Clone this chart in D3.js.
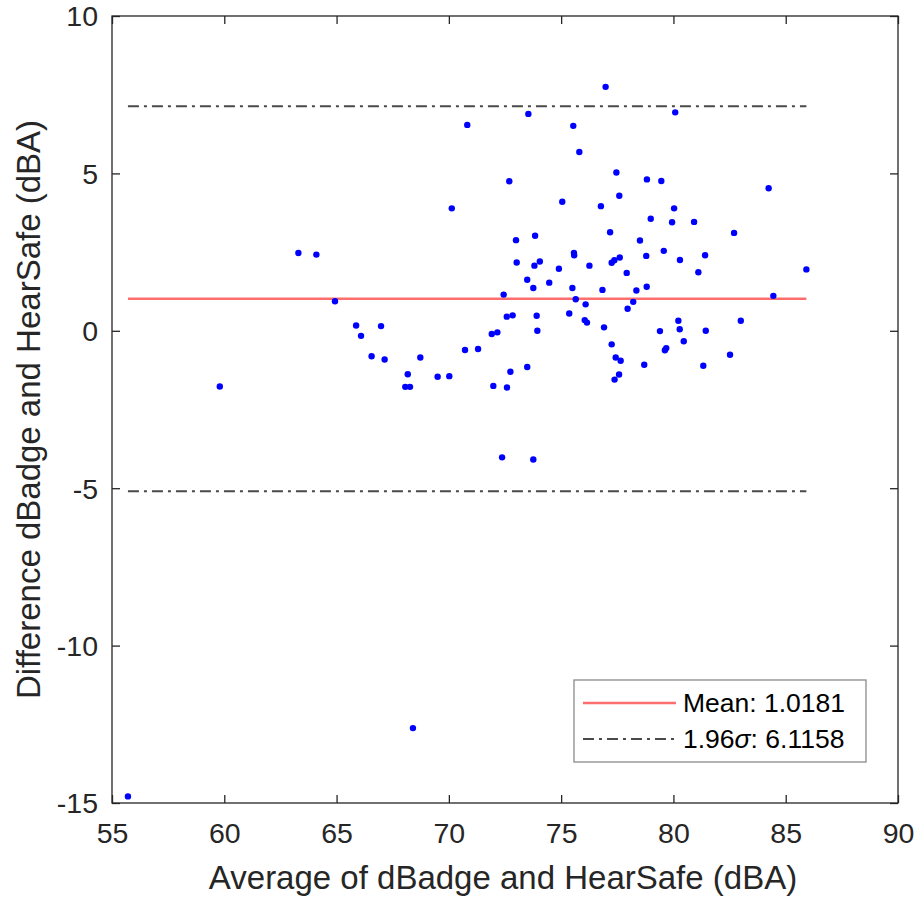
<!DOCTYPE html>
<html>
<head>
<meta charset="utf-8">
<script src="https://cdn.jsdelivr.net/npm/d3@7"></script>
<style>
  html, body { margin: 0; padding: 0; background: #fff; }
  svg { display: block; }
  text { font-family: "Liberation Sans", Arial, sans-serif; }
</style>
</head>
<body>
<svg id="chart" width="915" height="898"></svg>
<script>
// ---- data ----
const avgValues = [
  55.71, 59.80, 63.30, 64.10, 64.93, 65.87, 66.09, 66.56, 66.98, 67.14,
  68.06, 68.27, 68.17, 68.40, 68.73, 69.50, 70.02, 70.13, 70.72, 70.82,
  71.30, 71.91, 72.16, 71.98, 72.37, 72.44, 72.58, 72.59, 72.69, 72.74,
  72.84, 72.99, 73.02, 73.49, 73.49, 73.54, 73.76, 73.76, 73.81, 73.84,
  73.91, 73.94, 74.05, 74.47, 74.90, 75.05, 75.36, 75.50, 75.54, 75.57,
  75.58, 75.65, 75.81, 76.05, 76.09, 76.15, 76.26, 76.77, 76.84, 76.91,
  76.98, 77.18, 77.25, 77.25, 77.37, 77.38, 77.43, 77.46, 77.58, 77.59,
  77.61, 77.65, 77.92, 77.96, 78.21, 78.35, 78.51, 78.70, 78.79, 78.81,
  78.82, 78.99, 79.40, 79.46, 79.57, 79.62, 79.68, 79.94, 80.03, 80.08,
  80.22, 80.28, 80.29, 80.46, 80.92, 81.11, 81.33, 81.41, 81.44, 82.52,
  82.70, 83.00, 84.24, 84.45, 85.92
];
const diffValues = [
  -14.79, -1.77, 2.47, 2.42, 0.94, 0.17, -0.16, -0.81, 0.15, -0.91,
  -1.78, -1.78, -1.38, -12.62, -0.85, -1.46, -1.44, 3.89, -0.61, 6.54,
  -0.58, -0.10, -0.05, -1.75, -4.02, 1.15, 0.45, -1.80, 4.75, -1.30,
  0.49, 2.88, 2.17, 1.62, -1.15, 6.89, 1.36, -4.09, 2.07, 3.02,
  0.48, 0.00, 2.20, 1.53, 1.97, 4.10, 0.55, 1.36, 6.51, 2.47,
  2.40, 1.00, 5.68, 0.34, 0.84, 0.26, 2.07, 3.96, 1.30, 0.11,
  7.75, 3.13, 2.16, -0.43, 2.24, -1.55, -0.85, 5.03, -1.39, 4.29,
  2.33, -0.95, 1.84, 0.70, 0.92, 1.28, 2.87, -1.08, 2.38, 1.40,
  4.81, 3.56, -0.01, 4.76, 2.54, -0.62, -0.55, 3.45, 3.89, 6.94,
  0.32, 0.05, 2.25, -0.33, 3.46, 1.86, -1.11, 2.40, 0.00, -0.76,
  3.11, 0.32, 4.53, 1.11, 1.95
];
const meanDiff = 1.0181;
const loa = 6.1158;
const xTicks = [55, 60, 65, 70, 75, 80, 85, 90];
const yTicks = [-15, -10, -5, 0, 5, 10];
const xLabel = "Average of dBadge and HearSafe (dBA)";
const yLabel = "Difference dBadge and HearSafe (dBA)";
const legendMean = "Mean: 1.0181";
const legendLoaPrefix = "1.96";
const legendLoaSigma = "σ";
const legendLoaSuffix = ": 6.1158";

// ---- layout ----
const L = 112, R = 898, T = 16, B = 803;
const svg = d3.select("#chart");
const x = d3.scaleLinear().domain([55, 90]).range([L, R]);
const y = d3.scaleLinear().domain([-15, 10]).range([B, T]);
const axisColor = "#262626";

// points
const pts = avgValues.map((a, i) => ({ a, d: diffValues[i] }));
const xMin = d3.min(avgValues), xMax = d3.max(avgValues);

// reference lines
const lines = [
  { v: meanDiff, color: "#ff6e6e", dash: null, w: 2.4 },
  { v: meanDiff + loa, color: "#4a4a4a", dash: "11,5,3,5", w: 2 },
  { v: meanDiff - loa, color: "#4a4a4a", dash: "11,5,3,5", w: 2 }
];
svg.selectAll("line.ref").data(lines).enter().append("line")
  .attr("class", "ref")
  .attr("x1", x(xMin)).attr("x2", x(xMax))
  .attr("y1", d => y(d.v)).attr("y2", d => y(d.v))
  .attr("stroke", d => d.color)
  .attr("stroke-width", d => d.w)
  .attr("stroke-dasharray", d => d.dash);

svg.selectAll("circle.pt").data(pts).enter().append("circle")
  .attr("class", "pt")
  .attr("cx", d => x(d.a)).attr("cy", d => y(d.d))
  .attr("r", 3.2)
  .attr("fill", "#0000ff");

// axes
function styleAxis(g) {
  g.select(".domain").remove();
  g.selectAll(".tick line").attr("stroke", axisColor).attr("stroke-width", 1.3);
  g.selectAll(".tick text").attr("fill", axisColor)
    .style("font-family", '"Liberation Sans", Arial, sans-serif')
    .style("font-size", "28.5px");
}
const gx = svg.append("g").attr("transform", `translate(0,${B})`)
  .call(d3.axisBottom(x).tickValues(xTicks).tickSizeInner(-8).tickSizeOuter(0).tickFormat(d3.format("d")));
styleAxis(gx);
gx.selectAll(".tick text").attr("y", 40).attr("dy", null);

const gxt = svg.append("g").attr("transform", `translate(0,${T})`)
  .call(d3.axisTop(x).tickValues(xTicks).tickSizeInner(-8).tickSizeOuter(0).tickFormat(""));
styleAxis(gxt);

const gy = svg.append("g").attr("transform", `translate(${L},0)`)
  .call(d3.axisLeft(y).tickValues(yTicks).tickSizeInner(-8).tickSizeOuter(0).tickFormat(d3.format("d")));
styleAxis(gy);
gy.selectAll(".tick text").attr("x", -14).attr("dy", "0.35em")
  .text(d => (d < 0 ? "-" : "") + Math.abs(d));

const gyr = svg.append("g").attr("transform", `translate(${R},0)`)
  .call(d3.axisRight(y).tickValues(yTicks).tickSizeInner(-8).tickSizeOuter(0).tickFormat(""));
styleAxis(gyr);

// box
svg.append("rect").attr("x", L).attr("y", T).attr("width", R - L).attr("height", B - T)
  .attr("fill", "none").attr("stroke", axisColor).attr("stroke-width", 1.3);

// axis labels
svg.append("text").attr("x", 503).attr("y", 889)
  .attr("text-anchor", "middle").attr("fill", axisColor)
  .style("font-size", "33px").text(xLabel);
svg.append("text")
  .attr("transform", `translate(40,${(T + B) / 2}) rotate(-90)`)
  .attr("text-anchor", "middle").attr("fill", axisColor)
  .style("font-size", "33px").text(yLabel);

// legend
const lg = svg.append("g");
lg.append("rect").attr("x", 574).attr("y", 680).attr("width", 292).attr("height", 82)
  .attr("fill", "#fff").attr("stroke", "#8a8a8a").attr("stroke-width", 1.3);
lg.append("line").attr("x1", 583).attr("x2", 676).attr("y1", 703).attr("y2", 703)
  .attr("stroke", lines[0].color).attr("stroke-width", lines[0].w);
lg.append("line").attr("x1", 583).attr("x2", 676).attr("y1", 739).attr("y2", 739)
  .attr("stroke", lines[1].color).attr("stroke-width", lines[1].w)
  .attr("stroke-dasharray", "11,5,3,5");
lg.append("text").attr("x", 683).attr("y", 703).attr("dy", "0.35em")
  .attr("fill", "#000").style("font-size", "26.5px").text(legendMean);
const t2 = lg.append("text").attr("x", 683).attr("y", 739).attr("dy", "0.35em")
  .attr("fill", "#000").style("font-size", "26.5px");
t2.append("tspan").text(legendLoaPrefix);
t2.append("tspan").style("font-style", "italic").text(legendLoaSigma);
t2.append("tspan").text(legendLoaSuffix);
</script>
</body>
</html>
